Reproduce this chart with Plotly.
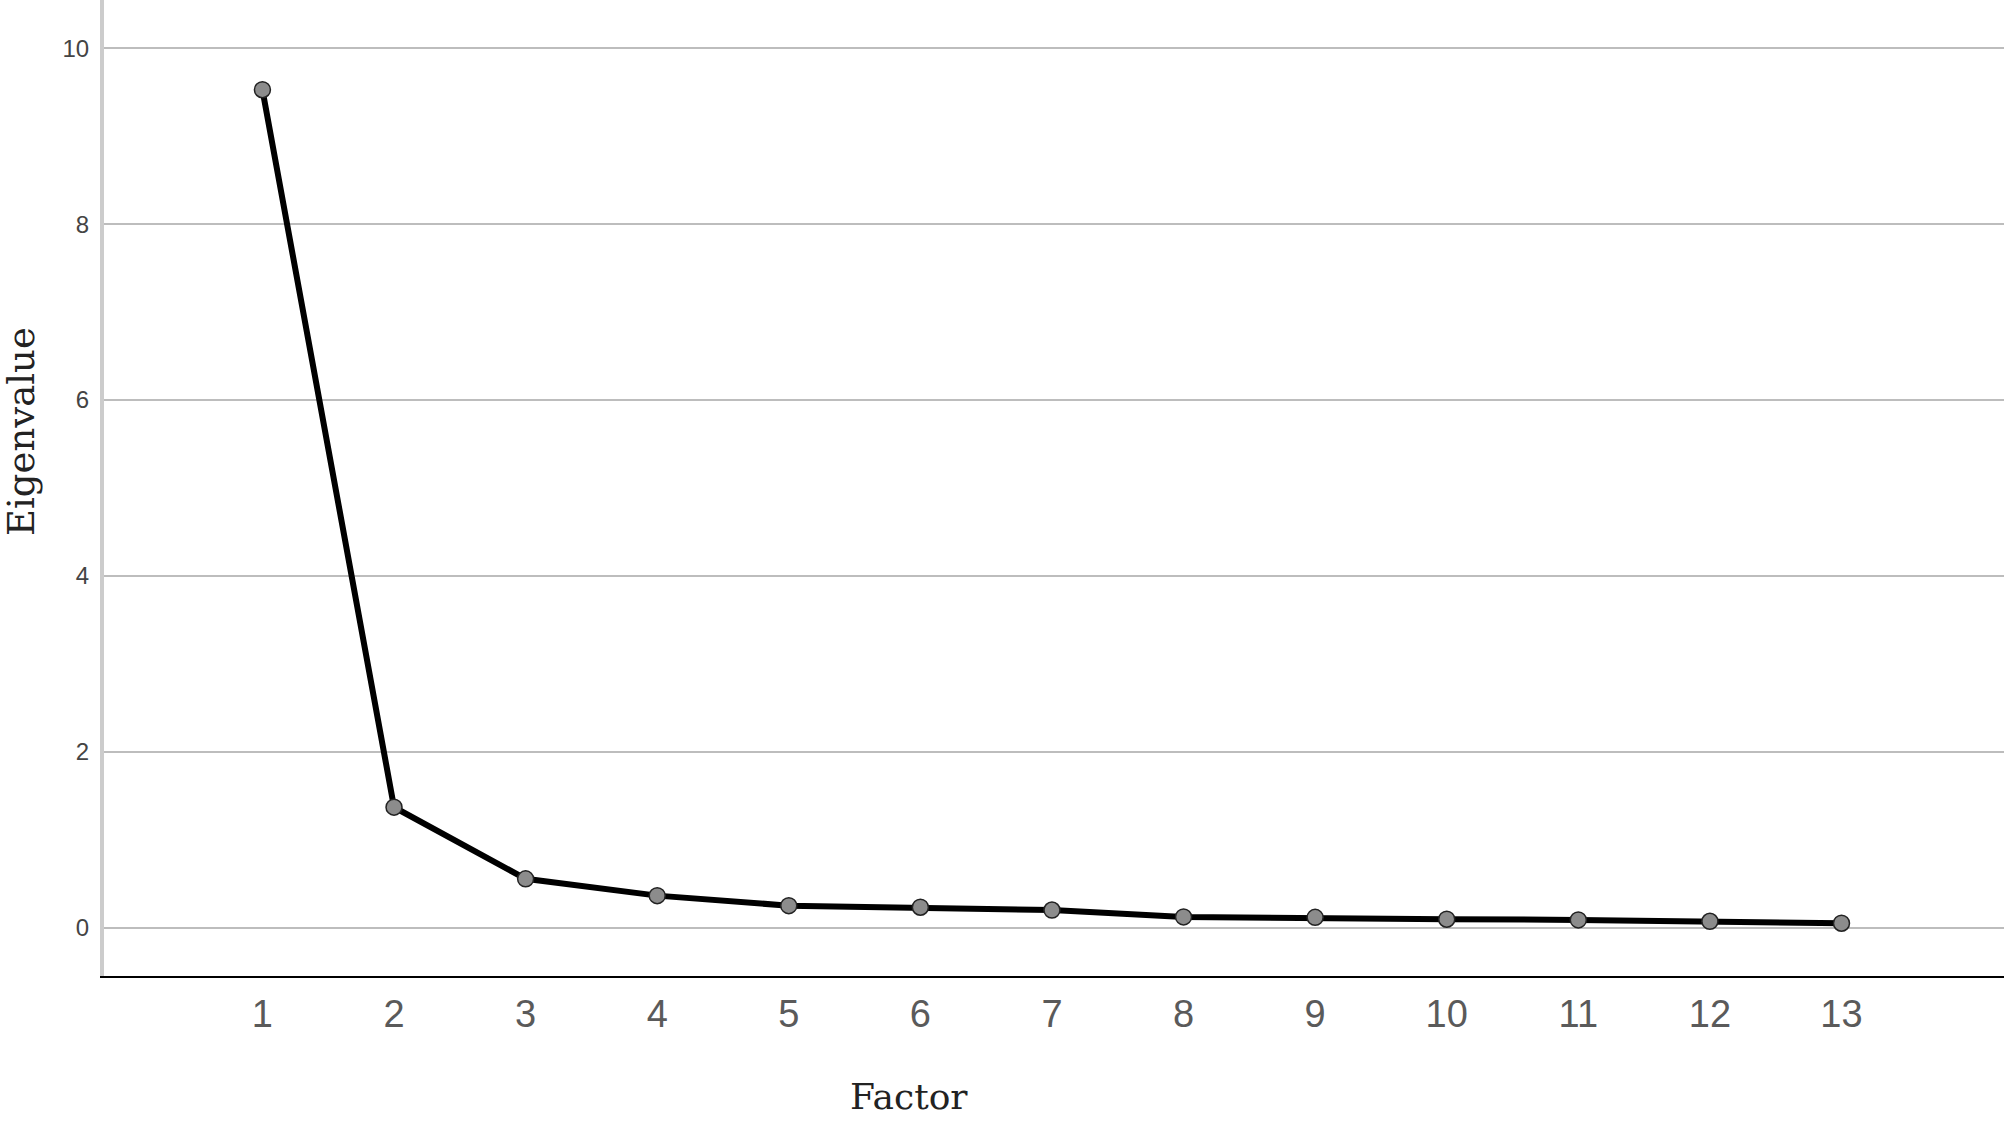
import plotly.graph_objects as go

factors = list(range(1, 14))
eigenvalues = [9.53, 1.37, 0.555, 0.364, 0.25, 0.232, 0.20, 0.122, 0.117, 0.096, 0.088, 0.072, 0.05]
x_tick_labels = [str(f) for f in factors]
y_tick_values = [0, 2, 4, 6, 8, 10]

L, R, T, B = 104, 4, 0, 146
PW, PH = 2008 - L - R, 1122 - T - B

fig = go.Figure()
fig.add_trace(go.Scatter(
    x=factors, y=eigenvalues, mode="lines+markers",
    line=dict(color="#000000", width=6),
    marker=dict(size=16, color="#8c8c8c", line=dict(color="#222222", width=1.5)),
    showlegend=False,
))

fig.update_layout(
    width=2008, height=1122,
    margin=dict(l=L, r=R, t=T, b=B),
    paper_bgcolor="white", plot_bgcolor="white",
    xaxis=dict(
        range=[-0.204, 14.235], tickmode="array", tickvals=factors, ticktext=x_tick_labels,
        showgrid=False, zeroline=False, showline=True, linecolor="#000000", linewidth=2,
        ticks="outside", ticklen=3, tickcolor="rgba(0,0,0,0)",
        tickfont=dict(family="Liberation Sans, Arial", size=38, color="#5a5a5a"),
    ),
    yaxis=dict(
        range=[-0.55, 10.55], tickmode="array", tickvals=y_tick_values,
        showgrid=True, gridcolor="#bdbdbd", gridwidth=1.5, zeroline=False,
        showline=True, linecolor="#cccccc", linewidth=4,
        ticks="outside", ticklen=6, tickcolor="rgba(0,0,0,0)",
        tickfont=dict(family="Liberation Sans, Arial", size=24, color="#444444"),
    ),
    annotations=[
        dict(text="Factor", xref="paper", yref="paper", x=(909 - L) / PW, y=(PH - (1096 - T)) / PH,
             xanchor="center", yanchor="middle", showarrow=False,
             font=dict(family="DejaVu Serif", size=36, color="#222222")),
        dict(text="Eigenvalue", xref="paper", yref="paper", x=(21 - L) / PW, y=(PH - (432 - T)) / PH,
             xanchor="center", yanchor="middle", textangle=-90, showarrow=False,
             font=dict(family="DejaVu Serif", size=37, color="#222222")),
    ],
)

fig.write_html("out.html")
